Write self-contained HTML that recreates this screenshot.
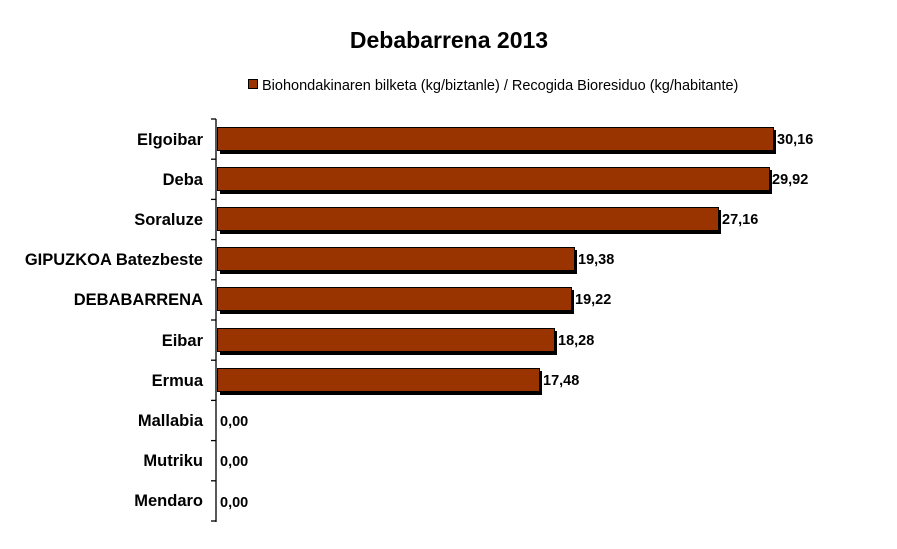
<!DOCTYPE html>
<html><head><meta charset="utf-8"><style>
body{margin:0;background:#fff;}
svg{display:block;font-family:"Liberation Sans",Arial,sans-serif;}
</style></head><body>
<svg width="897" height="549" xmlns="http://www.w3.org/2000/svg">
<text x="449" y="48" text-anchor="middle" font-size="23" font-weight="bold">Debabarrena 2013</text>
<rect x="248.5" y="79.5" width="9" height="9" fill="#993300" stroke="#000"/>
<text x="262" y="90" font-size="14.5">Biohondakinaren bilketa (kg/biztanle) / Recogida Bioresiduo (kg/habitante)</text>
<g stroke="#000" stroke-width="1.3">
<line x1="216" y1="119" x2="216" y2="522"/>
<line x1="211" y1="119" x2="216" y2="119"/><line x1="211" y1="159.2" x2="216" y2="159.2"/>
<line x1="211" y1="199.4" x2="216" y2="199.4"/><line x1="211" y1="239.6" x2="216" y2="239.6"/>
<line x1="211" y1="279.8" x2="216" y2="279.8"/><line x1="211" y1="320" x2="216" y2="320"/>
<line x1="211" y1="360.2" x2="216" y2="360.2"/><line x1="211" y1="400.4" x2="216" y2="400.4"/>
<line x1="211" y1="440.6" x2="216" y2="440.6"/><line x1="211" y1="480.8" x2="216" y2="480.8"/>
<line x1="211" y1="521" x2="216" y2="521"/>
</g>
<g font-size="16.5" font-weight="bold" text-anchor="end">
<text x="203" y="145">Elgoibar</text><text x="203" y="185">Deba</text>
<text x="203" y="225">Soraluze</text><text x="203" y="265">GIPUZKOA Batezbeste</text>
<text x="203" y="305">DEBABARRENA</text><text x="203" y="346">Eibar</text>
<text x="203" y="386">Ermua</text><text x="203" y="426">Mallabia</text>
<text x="203" y="466">Mutriku</text><text x="203" y="506">Mendaro</text>
</g>
<g fill="#000">
<rect x="220" y="130" width="556" height="24"/><rect x="220" y="170" width="552" height="24"/>
<rect x="220" y="210" width="501" height="24"/><rect x="220" y="250" width="357" height="24"/>
<rect x="220" y="290" width="354" height="24"/><rect x="220" y="331" width="337" height="24"/>
<rect x="220" y="371" width="322" height="24"/>
</g>
<g fill="#993300" stroke="#000" stroke-width="1">
<rect x="217.5" y="127.5" width="556" height="23"/><rect x="217.5" y="167.5" width="552" height="23"/>
<rect x="217.5" y="207.5" width="501" height="23"/><rect x="217.5" y="247.5" width="357" height="23"/>
<rect x="217.5" y="287.5" width="354" height="23"/><rect x="217.5" y="328.5" width="337" height="23"/>
<rect x="217.5" y="368.5" width="322" height="23"/>
</g>
<g font-size="14.5" font-weight="bold">
<text x="777" y="144">30,16</text><text x="772" y="184">29,92</text>
<text x="722" y="224">27,16</text><text x="578" y="264">19,38</text>
<text x="575" y="304">19,22</text><text x="558" y="345">18,28</text>
<text x="543" y="385">17,48</text><text x="220" y="426">0,00</text>
<text x="220" y="466">0,00</text><text x="220" y="507">0,00</text>
</g>
</svg>
</body></html>
